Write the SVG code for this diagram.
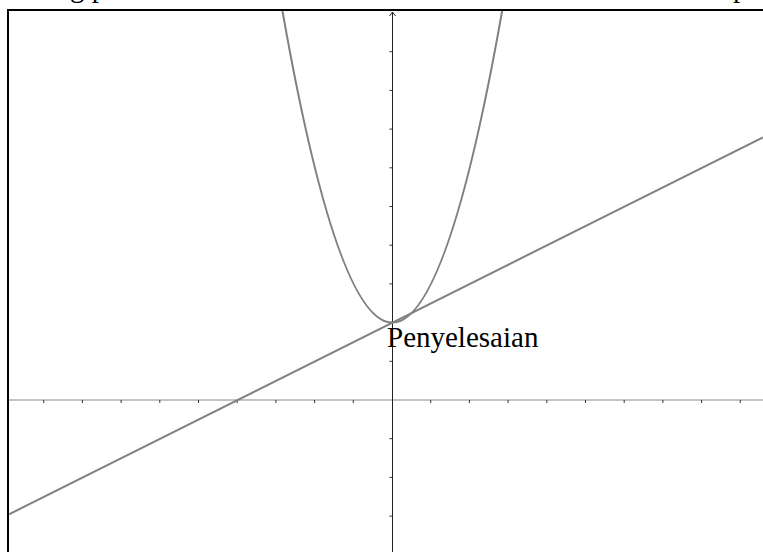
<svg xmlns="http://www.w3.org/2000/svg" width="763" height="552" viewBox="0 0 763 552">
<style>
.curve{fill:none;stroke:#808080;stroke-width:2}
.tick{stroke:#333;stroke-width:1}
.lbl{font-family:"Liberation Serif","Times New Roman",serif;font-size:29px;fill:#000}
</style>
<defs>
<clipPath id="plot"><rect x="9" y="11" width="754" height="541"/></clipPath>
</defs>
<rect width="763" height="552" fill="#fff"/>
<text class="lbl" x="70" y="-3">g p</text>
<text class="lbl" x="733" y="-3">p</text>
<g id="axes">
<line x1="9" y1="400" x2="763" y2="400" stroke="#888" stroke-width="1.2"/>
<line x1="392.5" y1="12" x2="392.5" y2="552" stroke="#222" stroke-width="1"/>
<path d="M389.5,16 L392.5,12 L395.5,16" fill="none" stroke="#222" stroke-width="1"/>
<g class="tick">
<path d="M43.7,400v3M82.4,400v3M121.1,400v3M159.8,400v3M198.5,400v3M237.2,400v3M275.9,400v3M314.6,400v3M353.3,400v3M430.7,400v3M469.4,400v3M508.1,400v3M546.8,400v3M585.5,400v3M624.2,400v3M662.9,400v3M701.6,400v3M740.3,400v3"/>
<path d="M389.5,51.7h3M389.5,90.4h3M389.5,129.1h3M389.5,167.8h3M389.5,206.5h3M389.5,245.2h3M389.5,283.9h3M389.5,322.6h3M389.5,361.3h3M389.5,438.7h3M389.5,477.4h3M389.5,516.1h3"/>
</g>
</g>
<g id="connectors" clip-path="url(#plot)">
<path id="parabola" class="curve" d="M282.3,10 Q392.3,635.2 502.3,10"/>
<line id="line" class="curve" x1="9" y1="514.3" x2="763" y2="137.3"/>
</g>
<g id="frame">
<rect x="8" y="10" width="800" height="600" fill="none" stroke="#000" stroke-width="2"/>
</g>
<g id="label">
<text class="lbl" x="387" y="347">Penyelesaian</text>
</g>
</svg>
